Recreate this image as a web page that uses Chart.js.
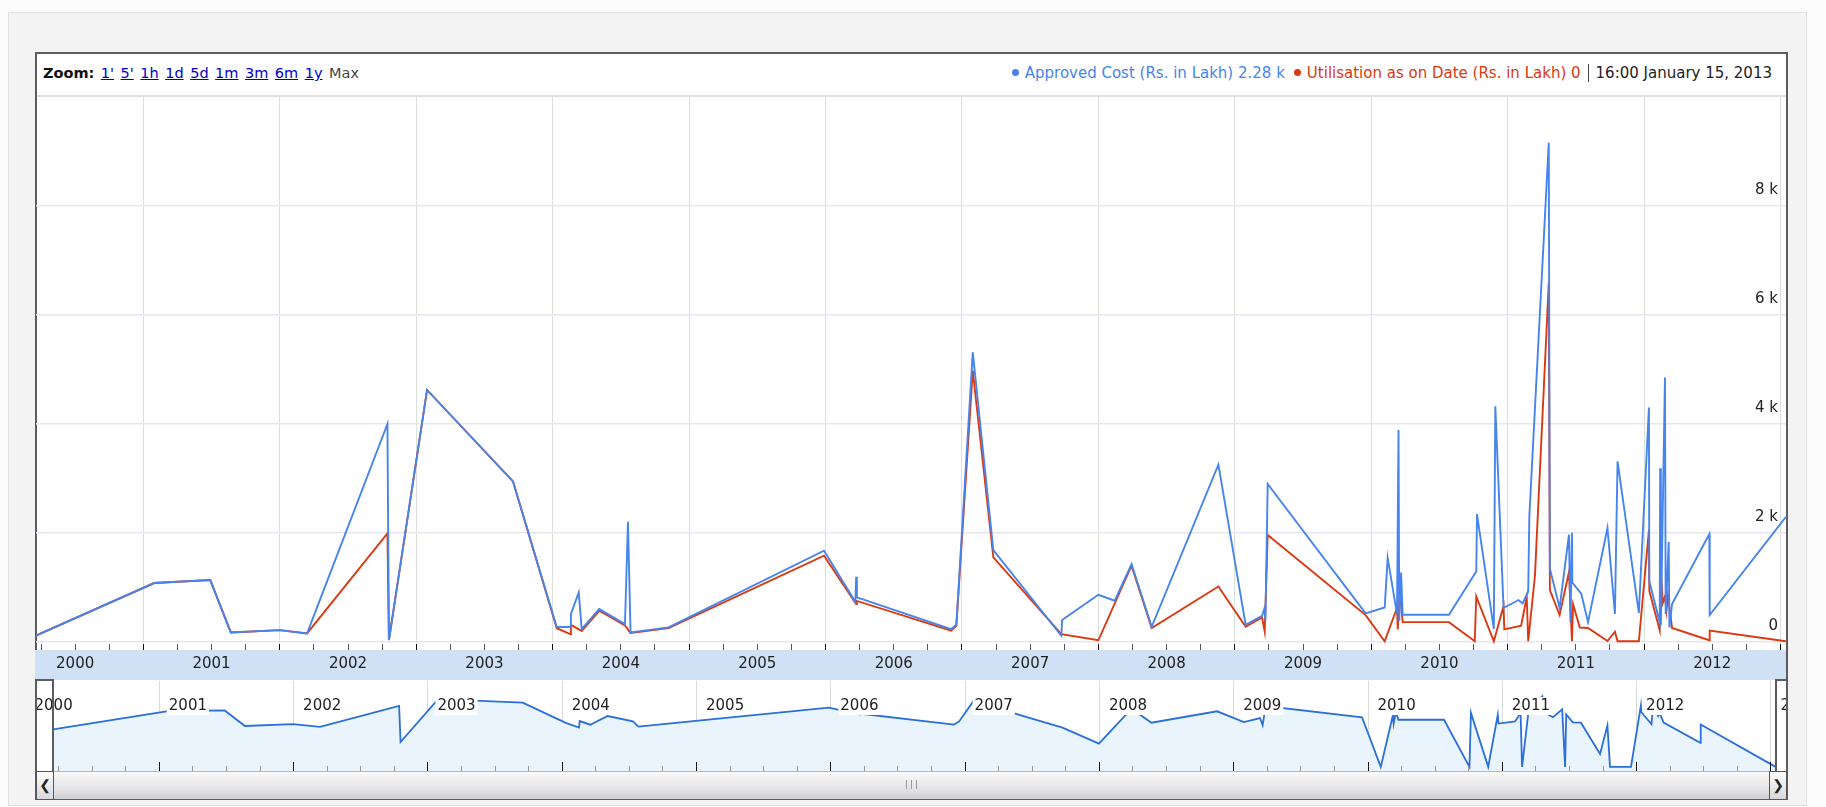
<!DOCTYPE html>
<html><head><meta charset="utf-8">
<script src="https://cdn.jsdelivr.net/npm/chart.js@4.4.1/dist/chart.umd.min.js"></script>
<style>
html,body{margin:0;padding:0;width:1826px;height:807px;overflow:hidden;background:#fbfbfb;font-family:"DejaVu Sans",Verdana,sans-serif;}
#outer{position:absolute;left:8px;top:12px;width:1797px;height:792px;background:#f3f3f3;border:1px solid #e0e0e0;}
#frame{position:absolute;left:35px;top:52px;width:1749px;height:744px;border:2px solid #5c5c5c;background:#fff;}
#sep{position:absolute;left:37px;top:95px;width:1749px;height:2px;background:#e2e2e2;}
#toolbar{position:absolute;left:43px;top:65px;font-size:14.5px;color:#444;white-space:nowrap;}
#toolbar b{color:#111;}
#toolbar a{color:#0000cc;text-decoration:underline;margin-left:6.5px;}
#toolbar span{margin-left:6.5px;}
#legend{position:absolute;right:54px;top:64px;font-size:15px;white-space:nowrap;}
#legend .dot{display:inline-block;width:7px;height:7px;border-radius:4px;margin:0 6px 2px 0;}
#legend .item{margin-left:9px;}
#legend .time{color:#222;border-left:1px solid #444;padding-left:7px;margin-left:7px;}
.cv{position:absolute;left:0;top:0;width:1826px;height:807px;}
#scroll{position:absolute;left:37px;top:771px;width:1749px;height:27px;background:linear-gradient(#fafafa,#e4e4e6 60%,#cfcfd3);border-top:1px solid #b8b8b8;}
.btn{position:absolute;top:771px;width:16px;height:27px;border:1px solid #555;background:linear-gradient(#fdfdfd,#d8d8dc);font-size:14px;line-height:27px;text-align:center;color:#222;}
#grip{position:absolute;left:906px;top:780px;width:9px;height:9px;border-left:1px solid #999;border-right:1px solid #999;}
#grip:after{content:"";position:absolute;left:4px;top:0;width:1px;height:9px;background:#999;}
</style></head>
<body>
<div id="outer"></div>
<div id="frame"></div>
<div id="sep"></div>
<div id="toolbar"></div>
<div id="legend"></div>
<div class="cv"><canvas id="main"></canvas></div>
<div class="cv"><canvas id="nav"></canvas></div>
<div id="scroll"></div>
<div class="btn" style="left:36px;">&#x276E;</div>
<div class="btn" style="left:1769px;">&#x276F;</div>
<div id="grip"></div>
<script>
// ---------------- DATA ----------------
const costLabel = "Approved Cost (Rs. in Lakh)";
const utilLabel = "Utilisation as on Date (Rs. in Lakh)";
const lastTime = "16:00 January 15, 2013";

const costDates = ["2000-03-19","2001-01-30","2001-06-29","2001-08-23","2002-01-01","2002-03-15","2002-10-16","2002-10-20","2003-01-30","2003-09-17",
"2004-01-12","2004-02-17","2004-02-19","2004-03-11","2004-03-19","2004-05-05","2004-07-13","2004-07-21","2004-07-28","2004-11-07",
"2005-12-28","2006-03-22","2006-03-24","2006-03-26","2006-12-03","2006-12-17","2007-01-30","2007-03-26","2007-09-24","2007-09-26",
"2008-01-01","2008-02-14","2008-03-30","2008-05-23","2008-11-18","2009-01-30","2009-03-15","2009-03-22","2009-03-24","2009-03-30",
"2009-12-17","2010-02-06","2010-02-14","2010-03-11","2010-03-15","2010-03-17","2010-03-22","2010-03-26","2010-07-28","2010-10-09",
"2010-10-11","2010-11-25","2010-11-29","2010-12-21","2011-01-30","2011-02-10","2011-02-25","2011-02-28","2011-04-21","2011-04-24",
"2011-05-20","2011-06-14","2011-06-18","2011-06-22","2011-06-23","2011-07-17","2011-08-04","2011-09-25","2011-10-15","2011-10-22",
"2011-12-18","2012-01-14","2012-01-15","2012-02-12","2012-02-13","2012-02-15","2012-02-26","2012-02-28","2012-03-07","2012-03-09",
"2012-03-16","2012-06-24","2012-06-25","2013-01-15"];
const costValues = [105,1069,1124,162,205,144,3989,22,4613,2935,
262,262,499,897,224,591,316,2195,162,254,
1662,720,1185,805,224,303,5304,1675,101,389,
854,744,1418,266,3241,303,468,621,380,2887,
511,621,1528,499,3879,376,1264,487,487,1282,
2336,224,4312,610,757,694,915,2300,9153,1333,
613,1956,351,1993,1075,874,351,2080,500,3302,
520,4290,1100,345,3174,300,4843,500,1827,254,
683,1970,481,2280];

const utilDates = ["2000-03-19","2001-01-30","2001-06-29","2001-08-23","2002-01-01","2002-03-15","2002-10-16","2002-10-20","2003-01-30","2003-09-17",
"2004-01-12","2004-02-17","2004-02-19","2004-03-19","2004-05-05","2004-07-13","2004-07-28","2004-11-07","2005-12-28","2006-03-24",
"2006-03-26","2006-12-03","2006-12-17","2007-01-30","2007-03-26","2007-09-24","2008-01-01","2008-03-30","2008-05-23","2008-11-18",
"2009-01-30","2009-03-15","2009-03-22","2009-03-30","2009-12-17","2010-02-06","2010-03-11","2010-03-13","2010-03-19","2010-03-26",
"2010-07-28","2010-10-05","2010-10-09","2010-11-25","2010-12-21","2010-12-23","2011-02-06","2011-02-21","2011-02-25","2011-03-15",
"2011-04-21","2011-04-24","2011-05-20","2011-06-14","2011-06-22","2011-06-25","2011-07-13","2011-08-04","2011-09-25","2011-10-15",
"2011-10-22","2011-12-18","2012-01-14","2012-01-15","2012-02-12","2012-02-15","2012-02-20","2012-02-26","2012-03-01","2012-03-05",
"2012-03-16","2012-06-24","2012-06-25","2013-01-15"];
const utilValues = [105,1069,1124,162,205,144,1980,22,4613,2935,
240,132,300,190,560,290,150,240,1570,683,
740,193,285,4968,1539,132,18,1387,242,1006,
266,437,180,1950,481,0,615,219,940,351,
351,0,823,0,645,219,285,810,0,1203,
6582,940,481,1269,0,678,252,245,5,175,
0,0,2040,927,200,1340,700,820,560,836,
245,20,195,0];

const yTickValues = [0,2000,4000,6000,8000];
const zoomLinks = ["1'","5'","1h","1d","5d","1m","3m","6m","1y"];
const zoomCurrent = "Max";

// ---------------- HELPERS ----------------
function toYear(s){const p=s.split('-').map(Number);const t=Date.UTC(p[0],p[1]-1,p[2]);const a=Date.UTC(p[0],0,1),b=Date.UTC(p[0]+1,0,1);return p[0]+(t-a)/(b-a);}
function pts(d,v){return d.map((s,i)=>({x:toYear(s),y:v[i]}));}
function fmt(v){return v>=1000?(v/1000).toFixed(2)+' k':String(v);}
const costPts = pts(costDates,costValues);
const utilPts = pts(utilDates,utilValues);
const xMin = toYear(costDates[0]);
const xMax = toYear(costDates[costDates.length-1]) + 16/24/365;
const firstYear = Math.floor(xMin), lastYear = Math.ceil(xMax);
const quarterTicks = [];
for(let y=firstYear;y<=lastYear;y++){for(let q=0;q<4;q++){const v=y+q/4;if(v>=xMin&&v<=xMax)quarterTicks.push(v);}}
const isYear = v=>Math.abs(v-Math.round(v))<1e-6;
const isMid = v=>Math.abs(v-Math.floor(v)-0.5)<1e-6;

document.getElementById('toolbar').innerHTML='<b>Zoom:</b>'+zoomLinks.map(z=>'<a>'+z+'</a>').join('')+'<span>'+zoomCurrent+'</span>';
const blue='#4684ee', red='#dc3912';
document.getElementById('legend').innerHTML =
 '<span class="item" style="color:'+blue+'"><span class="dot" style="background:'+blue+'"></span>'+costLabel+' '+fmt(costValues[costValues.length-1])+'</span>'+
 '<span class="item" style="color:'+red+'"><span class="dot" style="background:'+red+'"></span>'+utilLabel+' '+fmt(utilValues[utilValues.length-1])+'</span>'+
 '<span class="time">'+lastTime+'</span>';

const FONT = '"DejaVu Sans", Verdana, sans-serif';

const bandPlugin = {id:'band', beforeDraw(ch){const a=ch.chartArea,c=ch.ctx;c.save();c.fillStyle='#d0e1f6';c.fillRect(a.left-1,a.bottom+6,a.right-a.left+1,30);c.restore();}};

new Chart(document.getElementById('main'),{
 type:'line',
 data:{datasets:[
  {label:costLabel,data:costPts,borderColor:blue,borderWidth:1.9,pointRadius:0,tension:0,order:0,spanGaps:false},
  {label:utilLabel,data:utilPts,borderColor:red,borderWidth:1.9,pointRadius:0,tension:0,order:1,spanGaps:false}
 ]},
 options:{
  responsive:true,maintainAspectRatio:false,animation:false,
  layout:{padding:{left:36,right:40,top:96.5,bottom:807-644-35}},
  plugins:{legend:{display:false},tooltip:{enabled:false}},
  scales:{
   x:{type:'linear',min:xMin,max:xMax,
    afterFit:s=>{s.height=35;},
    afterBuildTicks:s=>{s.ticks=quarterTicks.map(v=>({value:v}));},
    border:{display:false},
    grid:{color:c=>isYear(c.tick.value)?'#d8e0d8':'rgba(0,0,0,0)',tickColor:c=>isYear(c.tick.value)?'#111':'#555',tickLength:6,lineWidth:1},
    ticks:{autoSkip:false,maxRotation:0,padding:5,color:'#222',font:{family:FONT,size:15},callback:v=>isMid(v)?String(Math.floor(v)):''}
   },
   y:{position:'right',min:-50,max:10000,
    afterFit:s=>{s.width=0;},
    afterBuildTicks:s=>{s.ticks=yTickValues.map(v=>({value:v}));},
    border:{display:false},
    grid:{color:'#e6e6f2',drawTicks:false,lineWidth:1.5},
    ticks:{mirror:true,padding:-8,labelOffset:-15,color:'#222',font:{family:FONT,size:15},callback:v=>v===0?'0':(v/1000)+' k'}
   }
  }
 },
 plugins:[bandPlugin]
});

// navigator (shows the utilisation series on a log scale)
const navMin = 2000.078, navMax = 2013.116;
const navPlugin = {id:'navdeco',
 beforeDatasetsDraw(ch){const a=ch.chartArea,c=ch.ctx,xs=ch.scales.x;c.save();c.strokeStyle='#d6ddd6';c.lineWidth=1;
  for(let y=Math.ceil(navMin);y<=navMax;y++){const px=Math.round(xs.getPixelForValue(y))+0.5;c.beginPath();c.moveTo(px,a.top);c.lineTo(px,a.bottom);c.stroke();}
  c.restore();},
 afterDatasetsDraw(ch){const a=ch.chartArea,c=ch.ctx,xs=ch.scales.x;c.save();
  c.beginPath();c.rect(a.left,a.top,a.right-a.left,a.bottom-a.top);c.clip();
  c.font='15px '+FONT;c.textBaseline='middle';
  for(let y=Math.floor(navMin);y<=navMax;y++){const px=xs.getPixelForValue(y)+8;const t=String(y);const w=c.measureText(t).width;
   c.fillStyle='#fff';c.fillRect(px,a.top+16,w+4,18);c.fillStyle='#222';c.fillText(t,px+2,a.top+25);}
  for(let y=Math.floor(navMin);y<=navMax;y++){for(let q=0;q<4;q++){const v=y+q/4;if(v<navMin||v>navMax)continue;const px=Math.round(xs.getPixelForValue(v))+0.5;
   c.strokeStyle=q===0?'#111':'#999';c.lineWidth=1;c.beginPath();c.moveTo(px,a.bottom-(q===0?9:5));c.lineTo(px,a.bottom);c.stroke();}}
  c.restore();
  const l=Math.round(xs.getPixelForValue(xMin)), r=Math.round(xs.getPixelForValue(xMax));
  c.save();c.strokeStyle='#5c5c5c';c.lineWidth=2;
  c.beginPath();c.moveTo(35,680);c.lineTo(l,680);c.lineTo(l,771);c.stroke();
  c.beginPath();c.moveTo(1788,680);c.lineTo(r,680);c.lineTo(r,771);c.stroke();
  c.restore();}
};
new Chart(document.getElementById('nav'),{
 type:'line',
 data:{datasets:[{data:utilPts.map(p=>({x:p.x,y:Math.max(p.y,1)})),borderColor:'#2a6fdb',borderWidth:1.8,backgroundColor:'#eaf4fd',fill:'start',pointRadius:0,tension:0}]},
 options:{responsive:true,maintainAspectRatio:false,animation:false,
  layout:{padding:{left:37,right:40,top:681,bottom:807-771}},
  plugins:{legend:{display:false},tooltip:{enabled:false}},
  scales:{x:{type:'linear',min:navMin+(37-35)/134.3,max:navMax,display:false},y:{type:'logarithmic',min:0.645,max:43600,display:false}}
 },
 plugins:[navPlugin]
});
</script>
</body></html>
